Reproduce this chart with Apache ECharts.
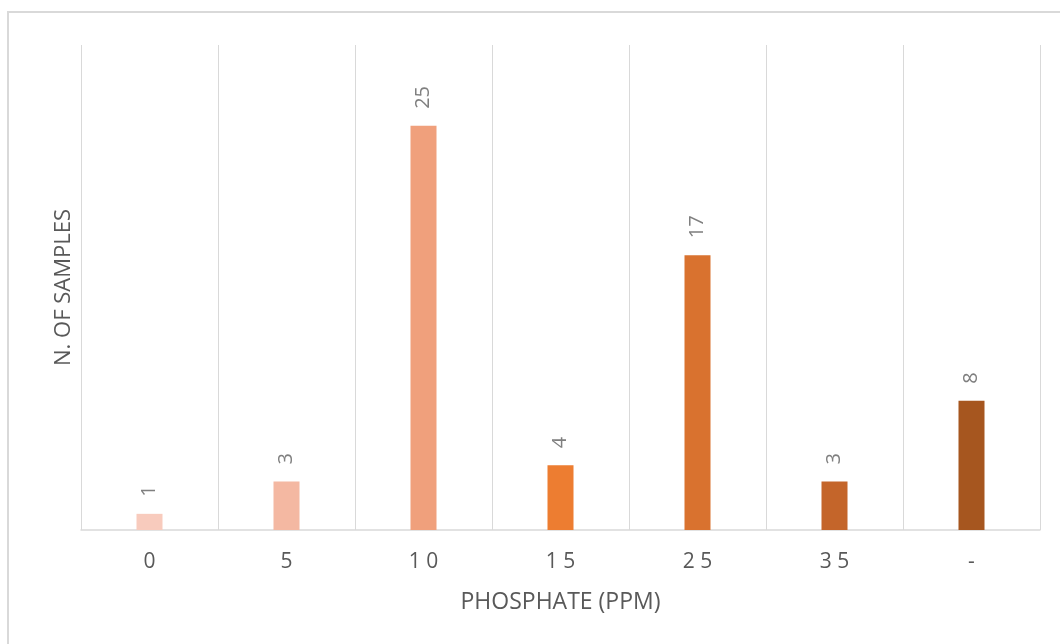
<!DOCTYPE html>
<html>
<head>
<meta charset="utf-8">
<style>
  html, body { margin: 0; padding: 0; background: #fff; }
  #chart { width: 1060px; height: 644px; }
</style>
<script src="https://cdn.jsdelivr.net/npm/echarts@6/dist/echarts.min.js"></script>
</head>
<body>
<div id="chart"></div>
<script>
// Phosphate concentration classes and number of samples in each
const categories = ['0', '5', '10', '15', '25', '35', '-'];
const sampleCounts = [1, 3, 25, 4, 17, 3, 8];
const barColors = ['#F8CBBD', '#F4B8A2', '#F0A07C', '#ED7D31', '#D9722F', '#C4652A', '#A6561F'];

const chart = echarts.init(document.getElementById('chart'), null, { renderer: 'canvas' });
const textColor = '#595959';
const fontFamily = '"Open Sans", "Liberation Sans", sans-serif';

chart.setOption({
  animation: false,
  backgroundColor: '#ffffff',
  graphic: [{
    type: 'rect',
    shape: { x: 8, y: 12, width: 1060, height: 650 },
    style: { fill: 'none', stroke: '#d9d9d9', lineWidth: 2 },
    silent: true
  }],
  grid: { left: 81, right: 20, top: 45, bottom: 114, containLabel: false },
  xAxis: {
    type: 'category',
    data: categories,
    boundaryGap: true,
    name: 'PHOSPHATE (PPM)',
    nameLocation: 'middle',
    nameGap: 61,
    nameTextStyle: { color: textColor, fontSize: 23, fontFamily: fontFamily },
    axisLine: { show: true, lineStyle: { color: '#d9d9d9', width: 1.5 } },
    axisTick: { show: false },
    axisLabel: {
      color: textColor, fontSize: 21, fontFamily: fontFamily, margin: 22,
      formatter: v => v.split('').join(' ')
    },
    splitLine: { show: true, lineStyle: { color: '#d9d9d9', width: 1 } }
  },
  yAxis: {
    type: 'value',
    min: 0,
    max: 30,
    interval: 5,
    name: 'N. OF SAMPLES',
    nameLocation: 'middle',
    nameGap: 6,
    nameRotate: 90,
    nameTextStyle: { color: textColor, fontSize: 22, fontFamily: fontFamily },
    axisLine: { show: false },
    axisTick: { show: false },
    axisLabel: { show: false },
    splitLine: { show: false }
  },
  series: [{
    type: 'bar',
    barWidth: 26,
    data: sampleCounts.map((v, i) => ({ value: v, itemStyle: { color: barColors[i] } })),
    label: {
      show: true,
      position: 'top',
      rotate: 90,
      align: 'left',
      verticalAlign: 'middle',
      distance: 17,
      color: '#7f7f7f',
      fontSize: 20,
      fontFamily: fontFamily
    }
  }]
});
</script>
</body>
</html>
